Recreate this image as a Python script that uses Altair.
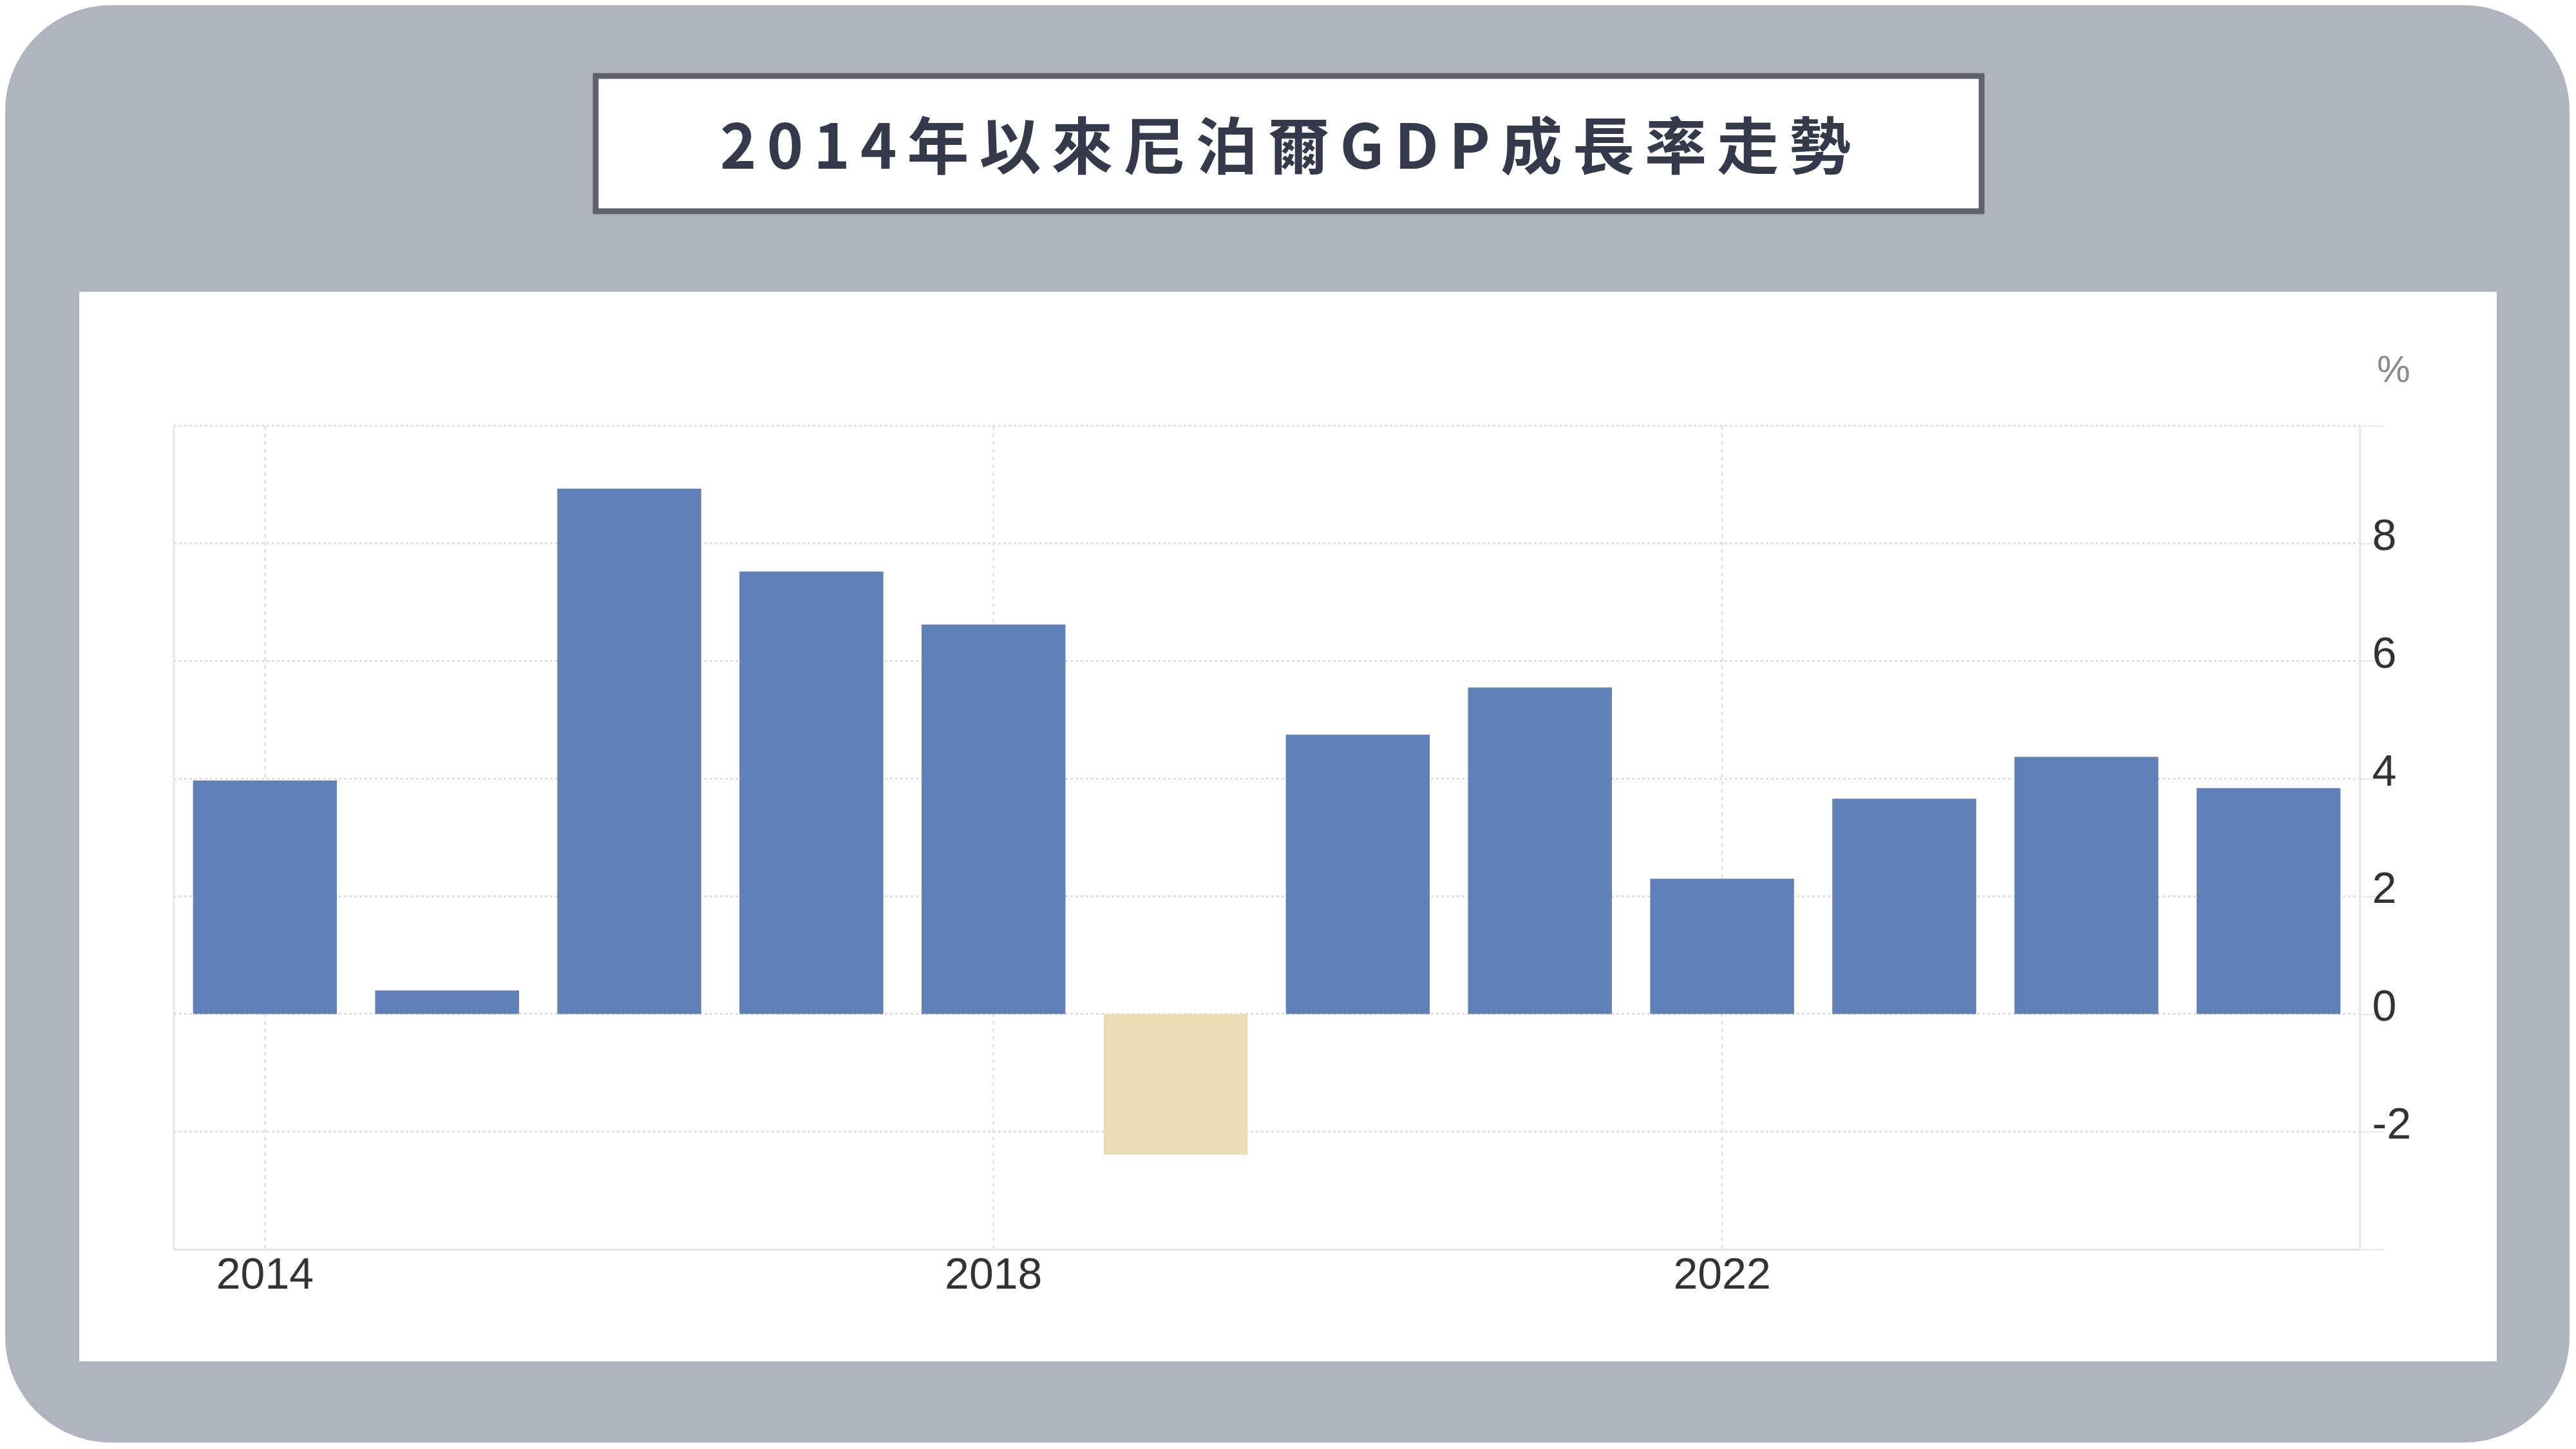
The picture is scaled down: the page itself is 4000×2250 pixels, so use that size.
import altair as alt
import pandas as pd

# ---- data ----
years = [2014, 2015, 2016, 2017, 2018, 2019, 2020, 2021, 2022, 2023, 2024, 2025]
growth = [3.97, 0.40, 8.93, 7.52, 6.62, -2.39, 4.75, 5.55, 2.30, 3.66, 4.37, 3.84]
x_label_years = [2014, 2018, 2022]
y_ticks = [-4, -2, 0, 2, 4, 6, 8, 10]
y_grid = [-2, 0, 2, 4, 6, 8, 10]
title_text = "2014年以來尼泊爾GDP成長率走勢"
unit_text = "%"

# ---- layout (pixels) ----
W, H = 3394, 1279
PAD = {"left": 262, "top": 653, "right": 326, "bottom": 300}

BLUE = "#6280b8"
SAND = "#eddbb4"
BG = "#b0b4be"

df = pd.DataFrame({"year": years, "growth": growth})
one = pd.DataFrame({"k": [0]})

xscale = alt.Scale(domain=years, paddingInner=0.21, paddingOuter=0.105)
yscale = alt.Scale(domain=[-4, 10], nice=False)

x_axis = alt.Axis(
    values=x_label_years, title=None, ticks=False, grid=False,
    labelAngle=0, labelFont="Liberation Sans", labelFontSize=68,
    labelColor="#333333", labelPadding=6,
    domainColor="#e6e6e6", domainWidth=3, zindex=1,
)
y_axis = alt.Axis(
    orient="right", values=y_ticks, title=None, grid=False,
    labelExpr="(datum.value == 10 || datum.value == -4) ? '' : ('' + datum.value)",
    labelFont="Liberation Sans", labelFontSize=68, labelColor="#333333",
    labelAlign="left", labelBaseline="middle", labelPadding=-19,
    labelOffset=-10, tickSize=38, tickColor="#e6e6e6", tickWidth=2,
    domainColor="#e6e6e6", domainWidth=3, zindex=1,
)

# background rounded panel
bg = alt.Chart(one).mark_rect(color=BG, cornerRadius=165).encode(
    x=alt.value(-PAD["left"]), x2=alt.value(W + PAD["right"]),
    y=alt.value(-PAD["top"]), y2=alt.value(H + PAD["bottom"]),
)
# white panel
panel = alt.Chart(one).mark_rect(color="white").encode(
    x=alt.value(-147), x2=alt.value(3607),
    y=alt.value(-208), y2=alt.value(1453),
)
# title box
tbox = alt.Chart(one).mark_rect(fill="white", stroke="#5f626c", strokeWidth=9).encode(
    x=alt.value(655), x2=alt.value(2807),
    y=alt.value(-543), y2=alt.value(-333),
)
ttext = alt.Chart(one).mark_text(
    text="\u2006".join(list(title_text)),
    font="Noto Sans CJK TC", fontSize=96, fontWeight=700, color="#343a4b",
    align="center", baseline="alphabetic",
).encode(x=alt.value(1726), y=alt.value(-399))

unit = alt.Chart(one).mark_text(
    text=unit_text, font="Liberation Sans", fontSize=58, color="#8a8a8a",
    align="left", baseline="alphabetic",
).encode(x=alt.value(3421), y=alt.value(-68))

# grid lines
hgrid = alt.Chart(pd.DataFrame({"growth": y_grid})).mark_rule(
    color="#dedede", strokeWidth=3, strokeDash=[4, 4]
).encode(
    y=alt.Y("growth:Q", scale=yscale, axis=y_axis),
    x=alt.value(0), x2=alt.value(W),
)
vgrid = alt.Chart(pd.DataFrame({"year": x_label_years})).mark_rule(
    color="#e2e2e2", strokeWidth=3, strokeDash=[6, 6]
).encode(
    x=alt.X("year:O", scale=xscale, axis=x_axis),
    y=alt.value(0), y2=alt.value(H),
)
leftline = alt.Chart(one).mark_rule(color="#e6e6e6", strokeWidth=3).encode(
    x=alt.value(0), y=alt.value(0), y2=alt.value(H)
)

bars = alt.Chart(df).mark_bar().encode(
    x=alt.X("year:O", scale=xscale, axis=x_axis),
    y=alt.Y("growth:Q", scale=yscale, axis=y_axis),
    color=alt.condition(alt.datum.growth < 0, alt.value(SAND), alt.value(BLUE)),
)

chart = alt.layer(bg, panel, tbox, ttext, unit, hgrid, vgrid, leftline, bars).properties(
    width=W, height=H, padding=PAD,
    autosize=alt.AutoSizeParams(type="none"),
    background="white",
).configure_view(stroke=None)

chart.save("out.html", embed_options={"renderer": "svg", "actions": False})
